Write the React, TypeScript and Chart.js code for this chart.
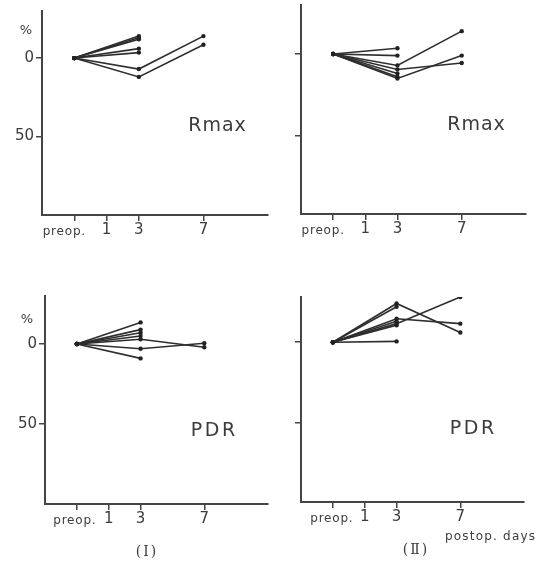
import React, { useEffect, useRef } from 'react';
import { Chart, registerables } from 'chart.js';

Chart.register(...registerables);

// ---- data ----
const X_DAYS = [-1, 3, 7]; // preop., day 3, day 7
const X_TICK_VALUES = [-1, 1, 3, 7];
const X_TICK_LABELS = ['preop.', '1', '3', '7'];
const Y_TICK_VALUES = [0, 50];

// Group (I) Rmax, % change (reversed axis: negative = above 0 line)
const rmaxGroupI = [
  [0, -14, null],
  [0, -13, null],
  [0, -12, null],
  [0, -6, null],
  [0, -3.5, null],
  [0, 7, -14],
  [0, 12, -8.5],
];

// Group (II) Rmax
const rmaxGroupII = [
  [0, -3.5, null],
  [0, 1, null],
  [0, 7, -14],
  [0, 9.5, 5.5],
  [0, 12, null],
  [0, 14, null],
  [0, 15, 1],
];

// Group (I) PDR
const pdrGroupI = [
  [0, -13.5, null],
  [0, -9, null],
  [0, -7, null],
  [0, -5, null],
  [0, -3, 2],
  [0, 3, -0.5],
  [0, 9, null],
];

// Group (II) PDR
const pdrGroupII = [
  [0, -24, -6],
  [0, -22, null],
  [0, -14.5, -11.5],
  [0, -13, null],
  [0, -11.5, -28],
  [0, -10.5, null],
  [0, -0.5, null],
];

// ---- styles ----
const INK = '#2e2e2e';
const AXIS = '#454545';
const TEXT = '#3c3c3c';
const FONT = '"DejaVu Sans", "Liberation Sans", sans-serif';

type TextItem = { text: string; x: number; y: number; size: number; spacing: number; family?: string };

type Panel = {
  key: string;
  left: number;
  top: number;
  series: (number | null)[][];
  yMin: number;
  yMax: number;
  axisW: number;
  axisH: number;
  padTop: number;
  padRight: number;
  showYLabels: boolean;
  preopShift: number;
  texts: TextItem[];
};

const PANELS: Panel[] = [
  {
    key: 'tl', left: 0, top: 0, series: rmaxGroupI, yMin: -30, yMax: 100,
    axisW: 42, axisH: 67, padTop: 5, padRight: 6, showYLabels: true, preopShift: -10,
    texts: [
      { text: 'Rmax', x: 217, y: 126, size: 19, spacing: 1 },
      { text: '%', x: 26, y: 31, size: 13, spacing: 0 },
    ],
  },
  {
    key: 'tr', left: 274, top: 0, series: rmaxGroupII, yMin: -30, yMax: 98,
    axisW: 27, axisH: 68, padTop: 5, padRight: 22, showYLabels: false, preopShift: -10,
    texts: [{ text: 'Rmax', x: 202, y: 125, size: 19, spacing: 1 }],
  },
  {
    key: 'bl', left: 0, top: 282, series: pdrGroupI, yMin: -30, yMax: 100,
    axisW: 45, axisH: 60, padTop: 14, padRight: 6, showYLabels: true, preopShift: -2,
    texts: [
      { text: 'PDR', x: 213, y: 149, size: 19, spacing: 2.5 },
      { text: '%', x: 27, y: 38, size: 13, spacing: 0 },
      { text: '(Ⅰ)', x: 146, y: 270, size: 14, spacing: 2, family: '"DejaVu Serif", serif' },
    ],
  },
  {
    key: 'br', left: 274, top: 282, series: pdrGroupII, yMin: -28, yMax: 99,
    axisW: 27, axisH: 62, padTop: 15, padRight: 24, showYLabels: false, preopShift: -1,
    texts: [
      { text: 'PDR', x: 198, y: 147, size: 19, spacing: 2.5 },
      { text: 'postop. days', x: 216, y: 255, size: 12, spacing: 1.2 },
      { text: '(Ⅱ)', x: 141, y: 268, size: 14, spacing: 2, family: '"DejaVu Serif", serif' },
    ],
  },
];

function makeTextPlugin(p: Panel) {
  return {
    id: 'panelText_' + p.key,
    afterDraw(chart: any) {
      const ctx = chart.ctx as CanvasRenderingContext2D;
      const xs = chart.scales.x;
      const bottom = chart.chartArea.bottom;
      ctx.save();
      ctx.fillStyle = TEXT;
      ctx.textAlign = 'center';
      ctx.textBaseline = 'middle';
      X_TICK_VALUES.forEach((v, i) => {
        const isPre = i === 0;
        ctx.font = (isPre ? 12 : 15) + 'px ' + FONT;
        (ctx as any).letterSpacing = isPre ? '0.8px' : '0px';
        const x = xs.getPixelForValue(v) + (isPre ? p.preopShift : 0);
        ctx.fillText(X_TICK_LABELS[i], x, bottom + (isPre ? 17 : 15));
      });
      p.texts.forEach((t) => {
        ctx.font = t.size + 'px ' + (t.family || FONT);
        (ctx as any).letterSpacing = t.spacing + 'px';
        ctx.fillText(t.text, t.x + t.spacing / 2, t.y);
      });
      ctx.restore();
    },
  };
}

function PanelChart({ p }: { p: Panel }) {
  const ref = useRef<HTMLCanvasElement | null>(null);
  useEffect(() => {
    if (!ref.current) return;
    const datasets = p.series.map((s, i) => ({
      label: p.key + i,
      data: X_DAYS.map((d, j) => ({ x: d, y: s[j] })),
      borderColor: INK,
      backgroundColor: INK,
      borderWidth: 1.6,
      pointRadius: 2.2,
      pointBorderWidth: 0,
      pointBackgroundColor: '#222',
      spanGaps: false,
      tension: 0,
      fill: false,
    }));
    const chart = new Chart(ref.current, {
      type: 'line',
      data: { datasets },
      plugins: [makeTextPlugin(p)],
      options: {
        animation: false,
        responsive: false,
        devicePixelRatio: 1,
        layout: { padding: { top: p.padTop, right: p.padRight, left: 0, bottom: 0 } },
        plugins: { legend: { display: false }, tooltip: { enabled: false }, title: { display: false } },
        scales: {
          x: {
            type: 'linear',
            min: -3,
            max: 11,
            afterBuildTicks: (axis: any) => {
              axis.ticks = X_TICK_VALUES.map((v) => ({ value: v }));
            },
            afterFit: (axis: any) => {
              axis.height = p.axisH;
            },
            ticks: { display: false },
            grid: { drawOnChartArea: false, drawTicks: true, tickLength: 6, color: AXIS, lineWidth: 1.5 },
            border: { display: true, color: AXIS, width: 2 },
          },
          y: {
            type: 'linear',
            reverse: true,
            min: p.yMin,
            max: p.yMax,
            afterBuildTicks: (axis: any) => {
              axis.ticks = Y_TICK_VALUES.map((v) => ({ value: v }));
            },
            afterFit: (axis: any) => {
              axis.width = p.axisW;
            },
            ticks: {
              display: p.showYLabels,
              color: TEXT,
              padding: 2,
              font: { family: FONT, size: 15 },
              callback: (v: any) => String(v),
            },
            grid: { drawOnChartArea: false, drawTicks: true, tickLength: 6, color: AXIS, lineWidth: 1.5 },
            border: { display: true, color: AXIS, width: 2 },
          },
        },
      } as any,
    });
    return () => chart.destroy();
  }, [p]);
  return (
    <canvas
      ref={ref}
      width={274}
      height={282}
      style={{ position: 'absolute', left: p.left, top: p.top, width: 274, height: 282, display: 'block' }}
    />
  );
}

export default function App() {
  return (
    <div style={{ position: 'fixed', left: 0, top: 0, width: 548, height: 564, background: '#ffffff', overflow: 'hidden' }}>
      {PANELS.map((p) => (
        <PanelChart key={p.key} p={p} />
      ))}
    </div>
  );
}
